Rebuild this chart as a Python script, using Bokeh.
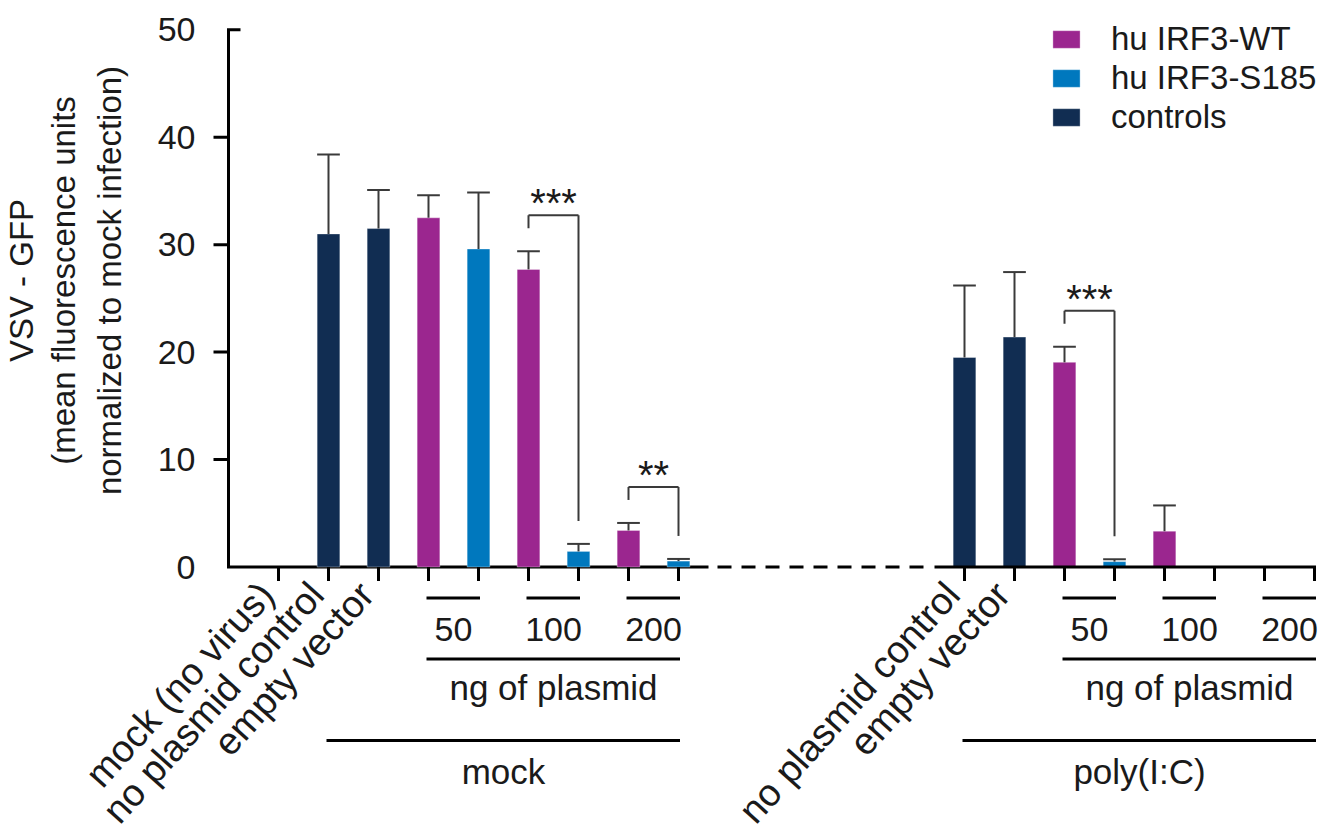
from bokeh.plotting import figure
from bokeh.models import (Range1d, ColumnDataSource, Whisker, TeeHead,
                          Legend, LegendItem)
from bokeh.core.properties import value
from bokeh.embed import file_html
from bokeh.resources import INLINE

# ---------------- data ----------------
treatments = ["mock", "poly(I:C)"]
doses = ["50", "100", "200"]                      # ng of plasmid
series_names = ["hu IRF3-WT", "hu IRF3-S185", "controls"]
y_ticks = [0, 10, 20, 30, 40, 50]
y_title = ["VSV - GFP", "(mean fluorescence units", "normalized to mock infection)"]
dose_title = "ng of plasmid"

# mock-treated cells
mock_control_labels = ["mock (no virus)", "no plasmid control", "empty vector"]
mock_control_vals = [0.0, 31.0, 31.5]
mock_control_sd = [0.0, 7.4, 3.6]
mock_wt_vals = [32.5, 27.7, 3.4]
mock_wt_sd = [2.1, 1.7, 0.7]
mock_s185_vals = [29.6, 1.45, 0.55]
mock_s185_sd = [5.25, 0.7, 0.2]

# poly(I:C)-treated cells
poly_control_labels = ["no plasmid control", "empty vector"]
poly_control_vals = [19.5, 21.4]
poly_control_sd = [6.7, 6.05]
poly_wt_vals = [19.05, 3.33, 0.0]
poly_wt_sd = [1.45, 2.4, 0.0]
poly_s185_vals = [0.5, 0.0, 0.0]
poly_s185_sd = [0.22, 0.0, 0.0]

# significance marks: treatment, dose, stars
sig_treatment = ["mock", "mock", "poly(I:C)"]
sig_dose = ["100", "200", "50"]
sig_stars = ["***", "**", "***"]

# ---------------- styles / layout ----------------
FONT = "Liberation Sans"
TXT = "#1a1a1a"
C_WT, C_S, C_CTRL = "#9B268F", "#0078BE", "#112D52"
ERR = "#3a3a3a"
W, H = 1326, 840
AXIS_PX = 228                          # page x of the y axis
X_L = -1.0 - AXIS_PX / 50.0
X_R = -1.0 + (W - AXIS_PX) / 50.0
Y0_PX, Y50_PX = 566.5, 29.3
SY = (Y0_PX - Y50_PX) / 50.0
Y_TOP = 50 + Y50_PX / SY
Y_BOT = -(H - Y0_PX) / SY
SX = W / (X_R - X_L)
POLY_START = 13.72                     # slot of first poly(I:C) bar
BAR_W = 0.454
Y_AX = -1.0                            # x position of the y axis


def dx(px):
    return px / SX


def dy(px):
    return px / SY


p = figure(width=W, height=H, x_range=Range1d(X_L, X_R), y_range=Range1d(Y_BOT, Y_TOP),
           x_axis_type=None, y_axis_type=None, toolbar_location=None, output_backend="svg",
           min_border_left=0, min_border_right=0, min_border_top=0, min_border_bottom=0)
p.outline_line_color = None
p.background_fill_color = "white"


def build_group(start, n_ctrl):
    cx = [start + k for k in range(n_ctrl)]
    wx = [start + n_ctrl + 2 * i for i in range(len(doses))]
    sx = [start + n_ctrl + 2 * i + 1 for i in range(len(doses))]
    return cx, wx, sx


groups = {"mock": build_group(0, len(mock_control_labels)),
          "poly(I:C)": build_group(POLY_START, len(poly_control_labels))}
vals = {
    "mock": (mock_control_vals, mock_control_sd, mock_wt_vals, mock_wt_sd, mock_s185_vals, mock_s185_sd),
    "poly(I:C)": (poly_control_vals, poly_control_sd, poly_wt_vals, poly_wt_sd, poly_s185_vals, poly_s185_sd),
}
mock_last = groups["mock"][2][-1]
poly_first = groups["poly(I:C)"][0][0]
poly_last = groups["poly(I:C)"][2][-1]

# ---------------- y axis (drawn on the plot's own scale) ----------------
p.line(x=[Y_AX + dx(12), Y_AX, Y_AX, mock_last + dx(30)],
       y=[y_ticks[-1], y_ticks[-1], y_ticks[0], y_ticks[0]],
       line_color="black", line_width=3, line_join="miter")
inner = y_ticks[1:-1]
p.segment(x0=[Y_AX] * len(inner), y0=inner, x1=[Y_AX - dx(15)] * len(inner), y1=inner,
          line_color="black", line_width=3)
p.text(x=[Y_AX - dx(33)] * len(y_ticks), y=y_ticks, text=[str(t) for t in y_ticks],
       text_align="right", text_baseline="middle", text_font=value(FONT),
       text_font_size="34px", text_color=TXT)
title_px = [21, 63, 109]
p.text(x=[Y_AX + dx(xp - AXIS_PX) for xp in title_px], y=[dy(Y0_PX - 280)] * 3, text=y_title,
       angle=90, angle_units="deg", text_align="center", text_baseline="middle",
       text_font=value(FONT), text_font_size="33px", text_color=TXT)

# ---------------- bars and error bars ----------------
series = {"ctrl": ([], [], []), "wt": ([], [], []), "s": ([], [], [])}
for t in treatments:
    cx, wx, sx = groups[t]
    cv, csd, wv, wsd, sv, ssd = vals[t]
    for key, xs, v, s in (("ctrl", cx, cv, csd), ("wt", wx, wv, wsd), ("s", sx, sv, ssd)):
        series[key][0].extend(xs)
        series[key][1].extend(v)
        series[key][2].extend(s)

renderers = {}
for key, color in (("ctrl", C_CTRL), ("wt", C_WT), ("s", C_S)):
    xs, v, s = series[key]
    bx = [x for x, val in zip(xs, v) if val > 0]
    bt = [val for val in v if val > 0]
    src = ColumnDataSource(dict(x=bx, top=bt))
    renderers[key] = p.vbar(x="x", top="top", width=BAR_W, bottom=0, source=src,
                            fill_color=color, line_color="white", line_alpha=0.35, line_width=1)
    ex = [x for x, sd in zip(xs, s) if sd > 0]
    el = [val for val, sd in zip(v, s) if sd > 0]
    eu = [val + sd for val, sd in zip(v, s) if sd > 0]
    esrc = ColumnDataSource(dict(x=ex, lower=el, upper=eu))
    wh = Whisker(base="x", lower="lower", upper="upper", source=esrc, dimension="height",
                 line_color=ERR, line_width=2, lower_head=None,
                 upper_head=TeeHead(size=BAR_W * SX, line_color=ERR, line_width=2))
    wh.level = "overlay"
    p.add_layout(wh)

# ---------------- broken x axis ----------------
p.segment(x0=[poly_first - dx(30)], y0=[0], x1=[poly_last + dx(1.5)], y1=[0],
          line_color="black", line_width=3)
p.segment(x0=[mock_last + dx(39)], y0=[0], x1=[poly_first - dx(40)], y1=[0],
          line_color="black", line_width=3, line_dash="14 10")
all_x = []
for t in treatments:
    cx, wx, sx = groups[t]
    all_x += cx + wx + sx
p.segment(x0=all_x, y0=[0] * len(all_x), x1=all_x, y1=[-dy(14)] * len(all_x),
          line_color="black", line_width=3)

# rotated category labels
lab_x, lab_t = [], []
for t, labels in (("mock", mock_control_labels), ("poly(I:C)", poly_control_labels)):
    for x, lab in zip(groups[t][0], labels):
        lab_x.append(x - dx(12))
        lab_t.append(lab)
p.text(x=lab_x, y=[-dy(21)] * len(lab_x), text=lab_t, angle=48, angle_units="deg",
       text_align="right", text_baseline="middle", text_font=value(FONT),
       text_font_size="38px", text_color=TXT)

# dose brackets, dose titles and treatment titles
seg_x0, seg_x1, seg_y = [], [], []
nx, ny, nt = [], [], []
tx, ty, tt = [], [], []
for t in treatments:
    cx, wx, sx = groups[t]
    for i, d in enumerate(doses):
        seg_x0.append(wx[i] - dx(2)); seg_x1.append(sx[i] + dx(1.5)); seg_y.append(-dy(31))
        nx.append((wx[i] + sx[i]) / 2); ny.append(-dy(62.5)); nt.append(d)
    seg_x0.append(wx[0] - dx(2)); seg_x1.append(sx[-1] + dx(1.5)); seg_y.append(-dy(92))
    tx.append((wx[0] + sx[-1]) / 2); ty.append(-dy(120)); tt.append(dose_title)
    g0 = cx[1] if t == "mock" else cx[0]
    seg_x0.append(g0 - dx(2)); seg_x1.append(sx[-1] + dx(1.5)); seg_y.append(-dy(173.5))
    tx.append((g0 + sx[-1]) / 2); ty.append(-dy(204)); tt.append(t)
p.segment(x0=seg_x0, y0=seg_y, x1=seg_x1, y1=seg_y, line_color="black", line_width=3)
p.text(x=nx, y=ny, text=nt, text_align="center", text_baseline="middle",
       text_font=value(FONT), text_font_size="34px", text_color=TXT)
p.text(x=tx, y=ty, text=tt, text_align="center", text_baseline="middle",
       text_font=value(FONT), text_font_size="35px", text_color=TXT)

# significance brackets
bx0, by0, bx1, by1 = [], [], [], []
sx_, sy_, st_ = [], [], []
for t, d, stars in zip(sig_treatment, sig_dose, sig_stars):
    cx, wx, sx = groups[t]
    cv, csd, wv, wsd, sv, ssd = vals[t]
    i = doses.index(d)
    wtop = wv[i] + wsd[i]
    stop = sv[i] + ssd[i]
    top = wtop + dy(36)
    xa, xb = wx[i], sx[i]
    bx0 += [xa, xa, xb]; by0 += [top - dy(13), top, top]
    bx1 += [xa, xb, xb]; by1 += [top, top, stop + dy(23)]
    sx_.append((xa + xb) / 2); sy_.append(top + dy(12)); st_.append(stars)
p.segment(x0=bx0, y0=by0, x1=bx1, y1=by1, line_color=ERR, line_width=2)
p.text(x=sx_, y=sy_, text=st_, text_align="center", text_baseline="middle",
       text_font=value(FONT), text_font_size="40px", text_color=TXT)

# legend
legend = Legend(items=[LegendItem(label=series_names[0], renderers=[renderers["wt"]]),
                       LegendItem(label=series_names[1], renderers=[renderers["s"]]),
                       LegendItem(label=series_names[2], renderers=[renderers["ctrl"]])],
                location=(1049, 704), glyph_width=34, glyph_height=22, label_standoff=28,
                label_text_font=FONT, label_text_font_size="33px", label_text_color=TXT,
                spacing=1, padding=0, margin=0, border_line_color=None,
                background_fill_alpha=0)
p.add_layout(legend)

open("out.html", "w").write(file_html(p, INLINE))
